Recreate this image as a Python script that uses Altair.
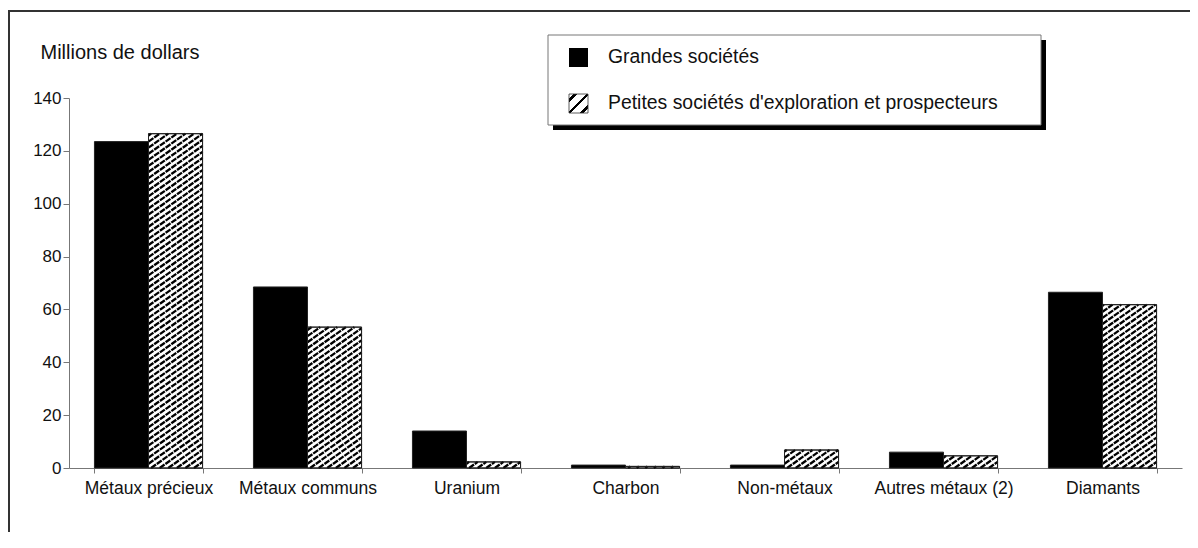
import altair as alt
import pandas as pd

# ---------------- data ----------------
categories = ["Métaux précieux", "Métaux communs", "Uranium", "Charbon",
              "Non-métaux", "Autres métaux (2)", "Diamants"]
grandes = [123.5, 68.5, 14.0, 1.1, 1.1, 6.0, 66.5]
petites = [126.5, 53.3, 2.3, 0.6, 6.8, 4.6, 61.8]
series_names = ["Grandes sociétés", "Petites sociétés d'exploration et prospecteurs"]
y_ticks = [0, 20, 40, 60, 80, 100, 120, 140]
y_title = "Millions de dollars"

# ---------------- style / layout ----------------
FONT = "Liberation Sans"
TXT = "#111111"
W, H = 1113, 370
PAD_IN = 0.32
PAD_OUT = PAD_IN / 2
BAR_FRAC = (1 - PAD_IN) / 2
HATCH_START = PAD_OUT + BAR_FRAC
RISE = 14.5   # hatch rise across a bar (y units)
GAP = 2.3     # vertical hatch spacing (y units)

rows = []
for i, c in enumerate(categories):
    rows.append({"cat": c, "series": series_names[0], "value": grandes[i], "idx": i})
    rows.append({"cat": c, "series": series_names[1], "value": petites[i], "idx": i})
df = pd.DataFrame(rows)
hatch_df = df[df["series"] == series_names[1]].reset_index(drop=True)

yscale = alt.Scale(domain=[0, 140], nice=False, zero=True)
xscale = alt.Scale(paddingInner=PAD_IN, paddingOuter=PAD_OUT)
offscale = alt.Scale(paddingInner=0, paddingOuter=0)
cscale = alt.Scale(domain=series_names, range=["#000000", "#ffffff"])

x_axis = alt.Axis(title=None, labelAngle=0, tickBand="extent", tickSize=5,
                  labelPadding=6, labelFontSize=17.5, labelFont=FONT, labelColor=TXT,
                  domainColor="#777777", tickColor="#777777", grid=False)
y_axis = alt.Axis(values=y_ticks, title=y_title, titleAngle=0, titleAlign="left",
                  titleBaseline="alphabetic", titleX=-29, titleY=-40,
                  titleFontSize=20, titleFontWeight="normal", titleFont=FONT,
                  titleColor=TXT, labelFontSize=17, labelFont=FONT, labelColor=TXT,
                  tickSize=6, labelPadding=2, domainColor="#777777",
                  tickColor="#777777", grid=False)

bars = alt.Chart(df).mark_bar(stroke="#222222", strokeWidth=1).encode(
    x=alt.X("cat:N", sort=categories, scale=xscale, axis=x_axis),
    xOffset=alt.XOffset("series:N", sort=series_names, scale=offscale),
    y=alt.Y("value:Q", scale=yscale, axis=y_axis),
    color=alt.Color("series:N", scale=cscale, legend=None),
)

hatch = (
    alt.Chart(hatch_df)
    .transform_calculate(ks=f"sequence(0, ceil((datum.value + {RISE}) / {GAP}) + 1)")
    .transform_flatten(["ks"], as_=["k"])
    .transform_calculate(y0=f"datum.k * {GAP} - {RISE}")
    .transform_calculate(tmin=f"max(0, -datum.y0 / {RISE})")
    .transform_calculate(tmax=f"min(1, (datum.value - datum.y0) / {RISE})")
    .transform_filter("datum.tmin < datum.tmax")
    .transform_calculate(xa=f"datum.idx + {HATCH_START} + datum.tmin * {BAR_FRAC}")
    .transform_calculate(xb=f"datum.idx + {HATCH_START} + datum.tmax * {BAR_FRAC}")
    .transform_calculate(ya=f"datum.y0 + datum.tmin * {RISE}")
    .transform_calculate(yb=f"datum.y0 + datum.tmax * {RISE}")
    .mark_rule(color="black", strokeWidth=2.3, strokeDash=[6, 1])
    .encode(
        x=alt.X("xa:Q", scale=alt.Scale(domain=[0, len(categories)], nice=False, zero=False), axis=None),
        x2="xb:Q",
        y=alt.Y("ya:Q", scale=yscale),
        y2="yb:Q",
    )
)

outline = alt.Chart(hatch_df).mark_bar(fillOpacity=0, stroke="#222222", strokeWidth=1).encode(
    x=alt.X("cat:N", sort=categories, scale=xscale, axis=None),
    xOffset=alt.XOffset("series:N", sort=series_names, scale=offscale),
    y=alt.Y("value:Q", scale=yscale),
)

# ---------------- frame & legend ----------------
one = alt.Data(values=[{"a": 1}])


def box(x, y, x2, y2, **kw):
    return alt.Chart(one).mark_rect(**kw).encode(
        x=alt.value(x), y=alt.value(y), x2=alt.value(x2), y2=alt.value(y2))


frame = box(-60, -87, W + 80, H + 120, fillOpacity=0, stroke="#333333", strokeWidth=2)
shadow = box(484, -58, 977, 32, fill="#000000")
lbox = box(479, -63, 972, 27, fill="#ffffff", stroke="#777777", strokeWidth=1)
sw_black = box(500, -50, 519, -31, fill="#000000")

n_str = 3
stops = [{"offset": 0, "color": "#ffffff"}]
for j in range(n_str):
    a = (j + 0.35) / n_str
    b = (j + 0.65) / n_str
    stops += [{"offset": a, "color": "#ffffff"}, {"offset": a, "color": "#000000"},
              {"offset": b, "color": "#000000"}, {"offset": b, "color": "#ffffff"}]
stops.append({"offset": 1, "color": "#ffffff"})
hatch_grad = {"gradient": "linear", "x1": 0, "y1": 0, "x2": 1, "y2": 1, "stops": stops}
sw_hatch = box(500, -4, 519, 15, fill=hatch_grad, stroke="#333333", strokeWidth=0.8)

leg_df = pd.DataFrame({"label": series_names})


def leg_text(label, y):
    return alt.Chart(leg_df).transform_filter(
        alt.datum.label == label
    ).mark_text(align="left", baseline="middle", fontSize=19.4, font=FONT, color=TXT).encode(
        x=alt.value(539), y=alt.value(y), text="label:N")


t1 = leg_text(series_names[0], -41)
t2 = leg_text(series_names[1], 5)

chart = (
    alt.layer(frame, shadow, lbox, sw_black, sw_hatch, t1, t2, bars, hatch, outline)
    .resolve_scale(x="independent")
    .properties(width=W, height=H, autosize="none", background="#ffffff",
                padding={"left": 61, "top": 90, "right": 8, "bottom": 64})
    .configure_view(stroke="transparent", strokeWidth=0)
)

chart.save("out.html", embed_options={"renderer": "svg", "actions": False})
